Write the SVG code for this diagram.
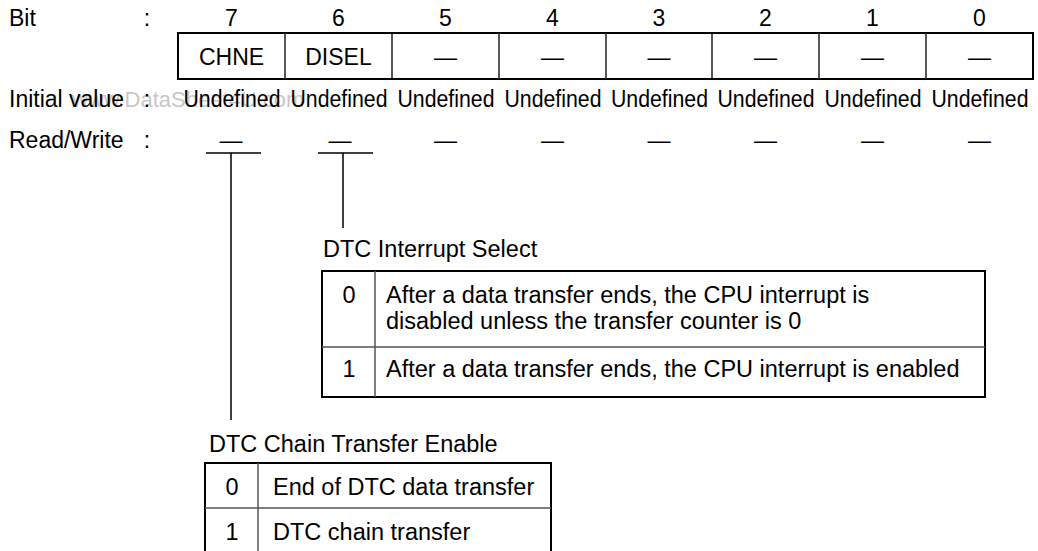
<svg xmlns="http://www.w3.org/2000/svg" width="1038" height="551" viewBox="0 0 1038 551">
<style>
text{font-family:"Liberation Sans",Arial,sans-serif;font-size:23px;fill:#000}
.c{text-anchor:middle}
.d{font-size:23.5px}
.wm{fill:#c8c8c8;font-size:22px}
.box{fill:none;stroke:#000;stroke-width:2}
.div{stroke:#222;stroke-width:1.5}
.gdiv{stroke:#555;stroke-width:1.5}
.lead{stroke:#000;stroke-width:1.5;fill:none}
</style>
<rect width="1038" height="551" fill="#fff"/>
<text class="wm" x="72" y="107">www.DataSheet4U.com</text>
<g id="labels">
<text x="9" y="26">Bit</text>
<text class="c" x="147" y="26">:</text>
<text x="9" y="107">Initial value</text>
<text class="c" x="147" y="107">:</text>
<text x="9" y="148">Read/Write</text>
<text class="c" x="147" y="148">:</text>
</g>
<g id="bitnums">
<text class="c" x="231.5" y="26">7</text>
<text class="c" x="338.5" y="26">6</text>
<text class="c" x="445.5" y="26">5</text>
<text class="c" x="552.5" y="26">4</text>
<text class="c" x="659" y="26">3</text>
<text class="c" x="765.5" y="26">2</text>
<text class="c" x="872.5" y="26">1</text>
<text class="c" x="979.5" y="26">0</text>
</g>
<g id="register">
<rect class="box" x="178" y="33" width="855" height="46"/>
<line class="div" x1="285" y1="33" x2="285" y2="79"/>
<line class="div" x1="392" y1="33" x2="392" y2="79"/>
<line class="div" x1="499" y1="33" x2="499" y2="79"/>
<line class="div" x1="606" y1="33" x2="606" y2="79"/>
<line class="div" x1="712" y1="33" x2="712" y2="79"/>
<line class="div" x1="819" y1="33" x2="819" y2="79"/>
<line class="div" x1="926" y1="33" x2="926" y2="79"/>
<text class="c" x="231.5" y="65">CHNE</text>
<text class="c" x="338.5" y="65">DISEL</text>
<text class="c" x="445.5" y="65">—</text>
<text class="c" x="552.5" y="65">—</text>
<text class="c" x="659" y="65">—</text>
<text class="c" x="765.5" y="65">—</text>
<text class="c" x="872.5" y="65">—</text>
<text class="c" x="979.5" y="65">—</text>
</g>
<g id="initial">
<text class="c" x="232" y="107" textLength="97" lengthAdjust="spacingAndGlyphs">Undefined</text>
<text class="c" x="339" y="107" textLength="97" lengthAdjust="spacingAndGlyphs">Undefined</text>
<text class="c" x="446" y="107" textLength="97" lengthAdjust="spacingAndGlyphs">Undefined</text>
<text class="c" x="553" y="107" textLength="97" lengthAdjust="spacingAndGlyphs">Undefined</text>
<text class="c" x="659.5" y="107" textLength="97" lengthAdjust="spacingAndGlyphs">Undefined</text>
<text class="c" x="766" y="107" textLength="97" lengthAdjust="spacingAndGlyphs">Undefined</text>
<text class="c" x="873" y="107" textLength="97" lengthAdjust="spacingAndGlyphs">Undefined</text>
<text class="c" x="980" y="107" textLength="97" lengthAdjust="spacingAndGlyphs">Undefined</text>
</g>
<g id="rw">
<text class="c" x="231" y="148">—</text>
<text class="c" x="340" y="148">—</text>
<text class="c" x="445.5" y="148">—</text>
<text class="c" x="552.5" y="148">—</text>
<text class="c" x="659" y="148">—</text>
<text class="c" x="765.5" y="148">—</text>
<text class="c" x="872.5" y="148">—</text>
<text class="c" x="979.5" y="148">—</text>
</g>
<g id="connectors">
<line class="lead" x1="206" y1="153" x2="261" y2="153"/>
<line class="lead" x1="231" y1="153" x2="231" y2="420"/>
<line class="lead" x1="318" y1="153" x2="373" y2="153"/>
<line class="lead" x1="343" y1="153" x2="343" y2="228"/>
</g>
<g id="disel-table">
<text class="d" x="323" y="257">DTC Interrupt Select</text>
<rect class="box" x="322" y="271" width="663" height="126"/>
<line class="gdiv" x1="322" y1="347" x2="985" y2="347"/>
<line class="gdiv" x1="375" y1="271" x2="375" y2="397"/>
<text class="c d" x="349" y="303">0</text>
<text class="d" x="386" y="303">After a data transfer ends, the CPU interrupt is</text>
<text class="d" x="386" y="329">disabled unless the transfer counter is 0</text>
<text class="c d" x="349" y="377">1</text>
<text class="d" x="386" y="377">After a data transfer ends, the CPU interrupt is enabled</text>
</g>
<g id="chne-table">
<text class="d" x="209" y="452">DTC Chain Transfer Enable</text>
<rect class="box" x="205" y="463" width="346" height="92"/>
<line class="gdiv" x1="205" y1="508" x2="551" y2="508"/>
<line class="gdiv" x1="258" y1="463" x2="258" y2="555"/>
<text class="c d" x="232" y="495">0</text>
<text class="d" x="273" y="495">End of DTC data transfer</text>
<text class="c d" x="232" y="540">1</text>
<text class="d" x="273" y="540">DTC chain transfer</text>
</g>
</svg>
